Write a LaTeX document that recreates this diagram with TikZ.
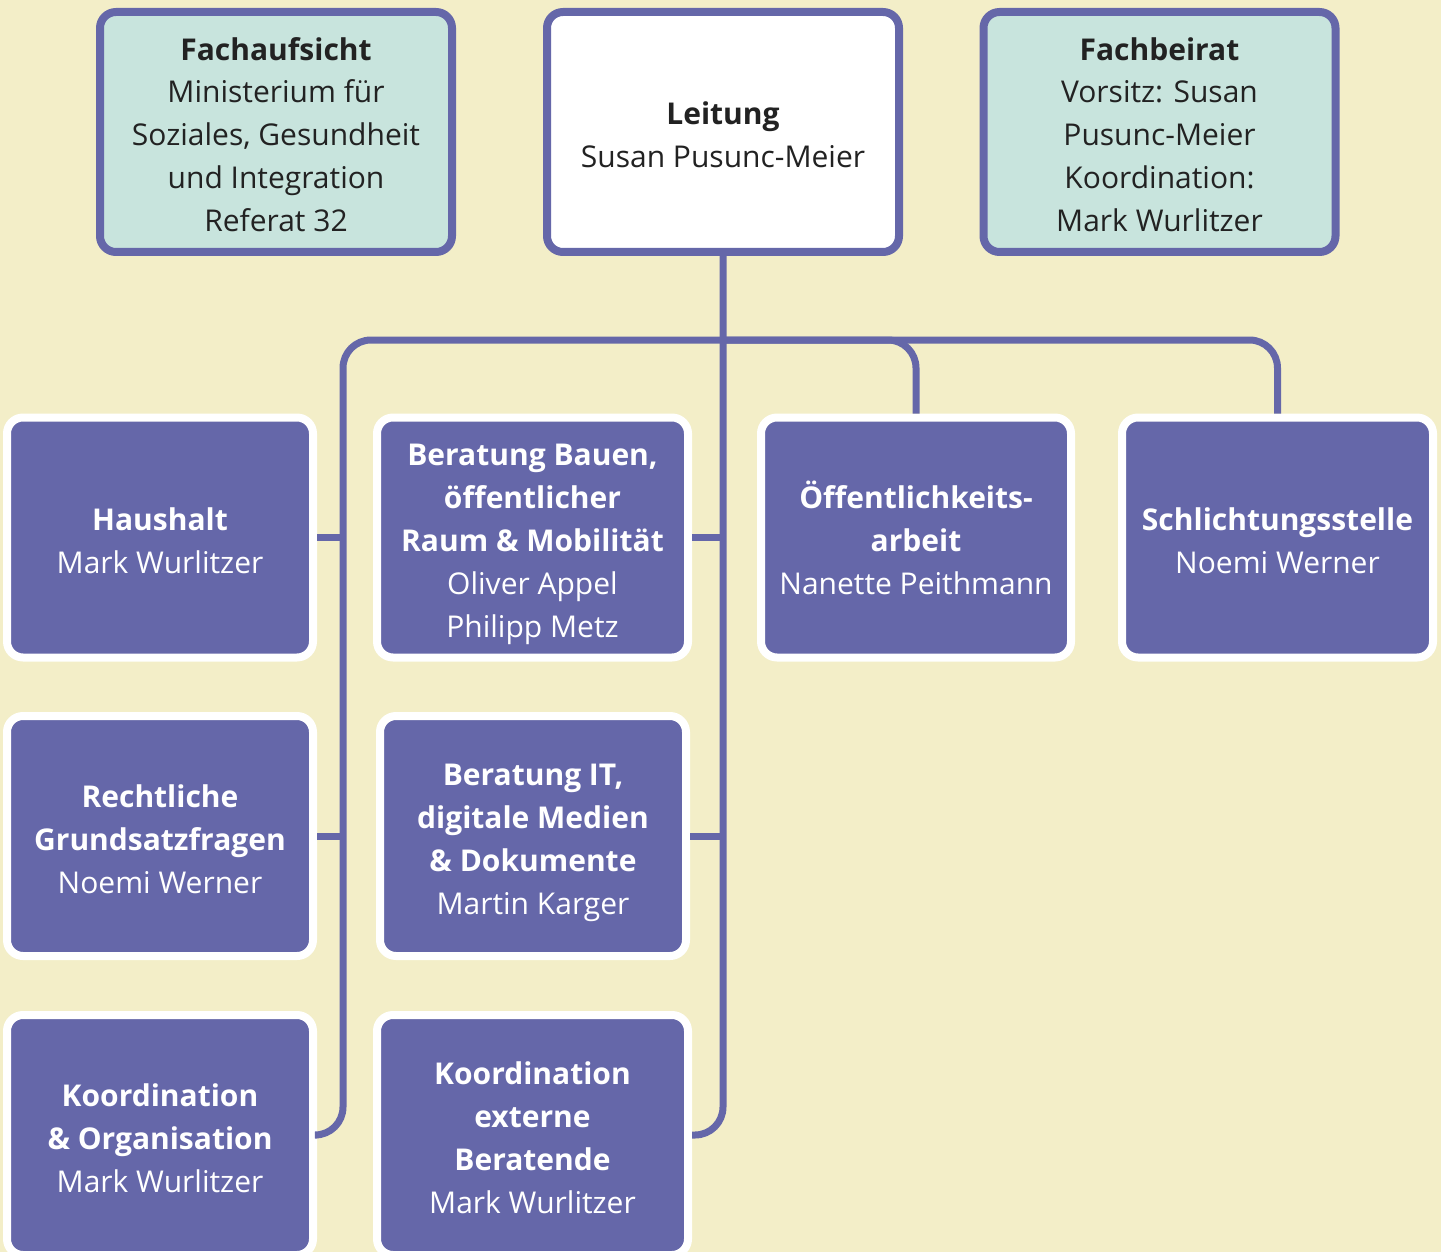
\documentclass[tikz,border=0pt]{standalone}
\usepackage{fontspec}
\setmainfont{Open Sans}
\definecolor{bgc}{HTML}{F3EEC8}
\definecolor{pur}{HTML}{6567A9}
\definecolor{tealc}{HTML}{C8E4DD}
\definecolor{txt}{HTML}{222222}
\newcommand\fstrut{\rule{0pt}{40pt}}
\newcommand\lstrut{\rule[-12pt]{0pt}{12pt}}
\tikzset{
  topbox/.style={draw=pur, line width=8pt, rounded corners=16pt, minimum width=352pt, minimum height=240pt,
    align=center, text=txt, font=\fontsize{30}{43}\selectfont, inner sep=0pt},
  unitbox/.style={draw=white, fill=pur, line width=8pt, rounded corners=16pt, minimum height=240pt,
    align=center, text=white, font=\fontsize{30}{43}\selectfont, inner sep=0pt},
  conn/.style={draw=pur, line width=7pt, rounded corners=28pt}
}
\begin{document}
\begin{tikzpicture}[x=1pt,y=-1pt]
\useasboundingbox (0,0) rectangle (1441,1252);
\clip (0,0) rectangle (1441,1252);
\fill[bgc] (0,0) rectangle (1441,1252);

\node[topbox, fill=tealc] (fa) at (276,132) {\fstrut\textbf{Fachaufsicht}\\Ministerium für\\Soziales, Gesundheit\\und Integration\\Referat 32\lstrut};
\node[topbox, fill=white] (lt) at (723,132) {\fstrut\textbf{Leitung}\\Susan Pusunc-Meier\lstrut};
\node[topbox, fill=tealc] (fb) at (1159.5,132) {\fstrut\textbf{Fachbeirat}\\Vorsitz: Susan\\Pusunc-Meier\\Koordination:\\Mark Wurlitzer\lstrut};

\node[unitbox, minimum width=306pt] (hh) at (160,537.5) {\fstrut\textbf{Haushalt}\\Mark Wurlitzer\lstrut};
\node[unitbox, minimum width=311pt] (bb) at (532.5,537.5) {\fstrut\textbf{Beratung Bauen,}\\\textbf{öffentlicher}\\\textbf{Raum \& Mobilität}\\Oliver Appel\\Philipp Metz\lstrut};
\node[unitbox, minimum width=310pt] (oe) at (916,537.5) {\fstrut\textbf{Öffentlichkeits-}\\\textbf{arbeit}\\Nanette Peithmann\lstrut};
\node[unitbox, minimum width=311pt] (sc) at (1277.5,537.5) {\fstrut\textbf{Schlichtungsstelle}\\Noemi Werner\lstrut};

\node[unitbox, minimum width=306pt] (rg) at (160,836) {\fstrut\textbf{Rechtliche}\\\textbf{Grundsatzfragen}\\Noemi Werner\lstrut};
\node[unitbox, minimum width=306pt] (it) at (533,836) {\fstrut\textbf{Beratung IT,}\\\textbf{digitale Medien}\\\textbf{\& Dokumente}\\Martin Karger\lstrut};

\node[unitbox, minimum width=306pt] (ko) at (160,1135) {\fstrut\textbf{Koordination}\\\textbf{\& Organisation}\\Mark Wurlitzer\lstrut};
\node[unitbox, minimum width=311pt] (ke) at (532.5,1135) {\fstrut\textbf{Koordination}\\\textbf{externe}\\\textbf{Beratende}\\Mark Wurlitzer\lstrut};

\coordinate (lsp) at (343,340);
\coordinate (bus) at (723,340);

\draw[conn] (lt.south) |- (ke.east);
\draw[conn] (ko.east) -| (lsp) -| (sc.north);
\draw[conn] (bus) -| (oe.north);
\draw[conn] (hh.east) -- (hh.east -| lsp);
\draw[conn] (rg.east) -- (rg.east -| lsp);
\draw[conn] (bb.east) -- (bb.east -| lt.south);
\draw[conn] (it.east) -- (it.east -| lt.south);
\end{tikzpicture}
\end{document}
